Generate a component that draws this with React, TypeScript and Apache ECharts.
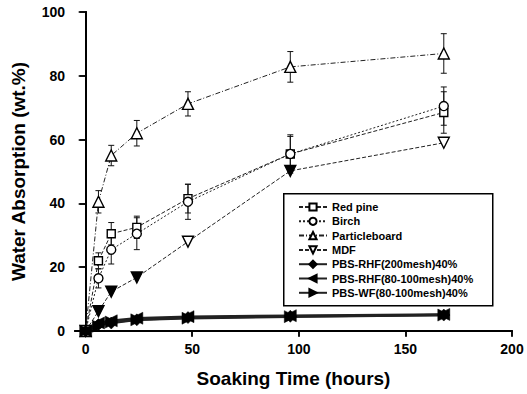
import React, { useEffect, useRef } from 'react';
import * as echarts from 'echarts';

// ---- data ----
const hours = [0, 6, 12, 24, 48, 96, 168];
const redPine = [0, 22, 30.5, 32.5, 41.5, 55.5, 68.5];
const redPineErr = [0, 2.5, 3.5, 3.5, 4.5, 6, 6.5];
const birch = [0, 16.5, 25.5, 30.5, 40.5, 55.5, 70.5];
const birchErr = [0, 3, 4.5, 5, 5.5, 5.5, 6];
const particleboard = [0, 40.5, 55, 62, 71.2, 82.8, 87];
const particleboardErr = [0, 3.5, 3.2, 4, 3.8, 4.8, 6.2];
const mdf = [0, 6.2, 12.3, 16.8, 28, 50.2, 59];
const rhf200 = [0, 2, 2.5, 3.5, 4.2, 4.6, 5];
const rhf80 = [0, 2.5, 3.2, 4, 4.5, 4.8, 5.2];
const wf80 = [0, 1.5, 2.8, 3.5, 4, 4.5, 5];
const xTicks = [0, 50, 100, 150, 200];
const seriesNames = [
  'Red pine',
  'Birch',
  'Particleboard',
  'MDF',
  'PBS-RHF(200mesh)40%',
  'PBS-RHF(80-100mesh)40%',
  'PBS-WF(80-100mesh)40%',
];
// style: indexes of MDF points that print as solid markers
const MDF_SOLID_IDX = [1, 2, 3, 5];

const FONT = '"Liberation Sans", Arial, sans-serif';

const toPairs = (vals: number[]) => hours.map((h, i) => [h, vals[i]]);

function errorBars(vals: number[], errs: number[]) {
  return {
    type: 'custom',
    silent: true,
    z: 1,
    encode: { x: 0, y: 1 },
    renderItem: (params: any, api: any) => {
      const x = api.value(0);
      const y = api.value(1);
      const e = api.value(2);
      const hi = api.coord([x, y + e]);
      const lo = api.coord([x, y - e]);
      const w = 3;
      const st = { stroke: '#111', lineWidth: 1 };
      return {
        type: 'group',
        children: [
          { type: 'line', shape: { x1: hi[0], y1: hi[1], x2: lo[0], y2: lo[1] }, style: st },
          { type: 'line', shape: { x1: hi[0] - w, y1: hi[1], x2: hi[0] + w, y2: hi[1] }, style: st },
          { type: 'line', shape: { x1: lo[0] - w, y1: lo[1], x2: lo[0] + w, y2: lo[1] }, style: st },
        ],
      };
    },
    data: hours.map((h, i) => [h, vals[i], errs[i]]).filter((d) => d[2] > 0),
  };
}

function lineSeries(
  name: string,
  vals: number[],
  symbol: string,
  size: number,
  rotate: number,
  filled: boolean,
  lineType: any,
  lineWidth: number,
  data?: any[]
) {
  return {
    name,
    type: 'line',
    data: data || toPairs(vals),
    symbol,
    symbolSize: size,
    symbolRotate: rotate,
    showAllSymbol: true,
    z: 3,
    itemStyle: {
      color: filled ? '#000' : '#fff',
      borderColor: '#000',
      borderWidth: filled ? 0.5 : 1.4,
    },
    lineStyle: { color: '#222', width: lineWidth, type: lineType },
    emphasis: { disabled: true },
  };
}

export default function App() {
  const ref = useRef<HTMLDivElement>(null);
  useEffect(() => {
    if (!ref.current) return;
    const chart = echarts.init(ref.current, null, { renderer: 'svg' });
    const mdfData = hours.map((h, i) =>
      MDF_SOLID_IDX.includes(i)
        ? { value: [h, mdf[i]], itemStyle: { color: '#000' } }
        : { value: [h, mdf[i]] }
    );
    const axisLine = { show: true, lineStyle: { color: '#000', width: 2 } };
    const label = { fontFamily: FONT, fontWeight: 'bold', fontSize: 14, color: '#000' };
    chart.setOption({
      animation: false,
      backgroundColor: '#fff',
      grid: { left: 75, right: 15, top: 12, bottom: 63 },
      xAxis: [
        {
          type: 'value',
          min: -5,
          max: 200,
          position: 'bottom',
          axisLine,
          axisTick: { show: true, customValues: xTicks, length: 6, lineStyle: { color: '#000', width: 1.5 } },
          axisLabel: { ...label, customValues: xTicks, margin: 11 },
          splitLine: { show: false },
          name: 'Soaking Time (hours)',
          nameLocation: 'middle',
          nameGap: 38,
          nameTextStyle: { fontFamily: FONT, fontWeight: 'bold', fontSize: 19, color: '#000' },
        },
        {
          type: 'value',
          min: -5,
          max: 200,
          position: 'top',
          axisLine,
          axisTick: { show: true, inside: true, customValues: xTicks, length: 5, lineStyle: { color: '#000', width: 1.5 } },
          axisLabel: { show: false },
          splitLine: { show: false },
        },
      ],
      yAxis: [
        {
          type: 'value',
          min: 0,
          max: 100,
          interval: 20,
          position: 'left',
          axisLine,
          axisTick: { show: true, length: 7, lineStyle: { color: '#000', width: 1.5 } },
          axisLabel: { ...label, margin: 10 },
          splitLine: { show: false },
          name: 'Water Absorption (wt.%)',
          nameLocation: 'middle',
          nameGap: 47,
          nameTextStyle: { fontFamily: FONT, fontWeight: 'bold', fontSize: 19, color: '#000' },
        },
        {
          type: 'value',
          min: 0,
          max: 100,
          interval: 20,
          position: 'right',
          axisLine,
          axisTick: { show: true, inside: true, length: 6, lineStyle: { color: '#000', width: 1.5 } },
          axisLabel: { show: false },
          splitLine: { show: false },
        },
      ],
      graphic: [
        {
          type: 'rect',
          left: 283,
          top: 193,
          z: 2,
          shape: { width: 209, height: 112 },
          style: { fill: '#fff', stroke: '#000', lineWidth: 1.5 },
        },
      ],
      legend: {
        data: seriesNames,
        orient: 'vertical',
        left: 298,
        top: 200,
        padding: 0,
        itemWidth: 28,
        itemHeight: 9,
        itemGap: 0.3,
        selectedMode: false,
        textStyle: { fontFamily: FONT, fontWeight: 'bold', fontSize: 11, lineHeight: 14, color: '#000' },
      },
      series: [
        errorBars(particleboard, particleboardErr),
        errorBars(redPine, redPineErr),
        errorBars(birch, birchErr),
        lineSeries(seriesNames[0], redPine, 'rect', 8, 0, false, [4, 2], 1),
        lineSeries(seriesNames[1], birch, 'circle', 9, 0, false, [2, 2], 1),
        lineSeries(seriesNames[2], particleboard, 'triangle', 11, 0, false, [5, 2, 1, 2], 1),
        lineSeries(seriesNames[3], mdf, 'triangle', 11, 180, false, [4, 2], 1, mdfData),
        lineSeries(seriesNames[4], rhf200, 'diamond', 12, 0, true, 'solid', 2.5),
        lineSeries(seriesNames[5], rhf80, 'triangle', 12, 90, true, 'solid', 2.5),
        lineSeries(seriesNames[6], wf80, 'triangle', 12, -90, true, 'solid', 2.5),
      ],
    });
    return () => chart.dispose();
  }, []);
  return (
    <div
      ref={ref}
      style={{ position: 'absolute', left: 0, top: 0, width: 527, height: 394 }}
    />
  );
}
